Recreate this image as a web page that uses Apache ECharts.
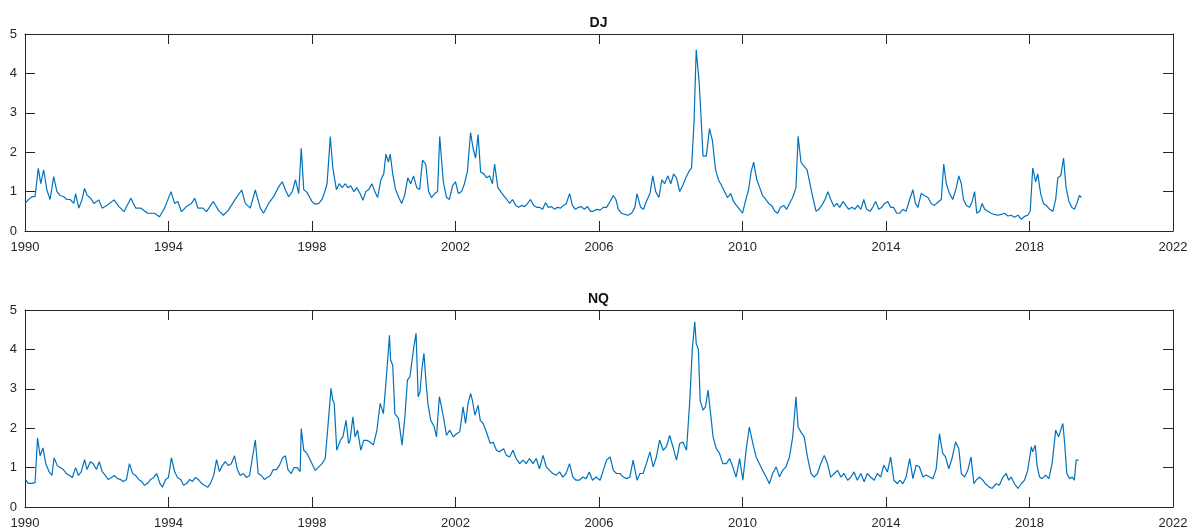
<!DOCTYPE html>
<html>
<head>
<meta charset="utf-8">
<script src="https://cdn.jsdelivr.net/npm/echarts@6/dist/echarts.min.js"></script>
<style>
html,body{margin:0;padding:0;background:#fff;}
#chart{width:1197px;height:531px;}
</style>
</head>
<body>
<div id="chart"></div>
<script>
// ---- DATA ----
const panelTitles = ['DJ', 'NQ'];
const yearTicks = [1990, 1994, 1998, 2002, 2006, 2010, 2014, 2018, 2022];
const valueTicks = [0, 1, 2, 3, 4, 5];

const djYears = [
1990.00,1990.09,1990.19,1990.28,1990.37,1990.44,1990.52,1990.61,1990.70,1990.80,1990.89,1990.98,
1991.08,1991.17,1991.26,1991.36,1991.41,1991.50,1991.59,1991.66,1991.73,1991.83,1991.92,
1992.06,1992.15,1992.30,1992.48,1992.62,1992.76,1992.95,
1993.09,1993.23,1993.42,1993.61,1993.75,1993.89,
1994.07,1994.17,1994.26,1994.36,1994.50,1994.64,1994.73,1994.82,1994.96,
1995.06,1995.25,1995.39,1995.53,1995.67,1995.85,
1996.04,1996.14,1996.28,1996.42,1996.56,1996.65,1996.79,1996.93,
1997.07,1997.17,1997.26,1997.35,1997.45,1997.54,1997.63,1997.70,1997.77,1997.86,
1998.00,1998.09,1998.19,1998.28,1998.34,1998.42,1998.51,1998.58,1998.68,1998.76,1998.84,1998.93,
1999.00,1999.08,1999.17,1999.25,1999.34,1999.42,1999.50,1999.58,1999.67,1999.75,1999.83,1999.92,
2000.00,2000.06,2000.13,2000.18,2000.25,2000.33,2000.42,2000.50,2000.58,2000.67,2000.75,2000.83,2000.92,
2001.00,2001.08,2001.17,2001.25,2001.33,2001.42,2001.50,2001.56,2001.66,2001.75,2001.83,2001.92,
2002.00,2002.08,2002.17,2002.25,2002.33,2002.42,2002.49,2002.56,2002.63,2002.70,2002.79,2002.87,2002.95,
2003.03,2003.09,2003.18,2003.26,2003.34,2003.43,2003.51,2003.59,2003.68,2003.76,2003.84,2003.93,
2004.01,2004.09,2004.18,2004.26,2004.34,2004.43,2004.51,2004.59,2004.68,2004.76,2004.84,2004.93,
2005.01,2005.09,2005.18,2005.26,2005.34,2005.43,2005.51,2005.59,2005.68,2005.76,2005.84,2005.93,
2006.03,2006.12,2006.21,2006.31,2006.40,2006.47,2006.54,2006.63,2006.72,2006.81,2006.91,
2007.00,2007.06,2007.16,2007.24,2007.32,2007.42,2007.50,2007.58,2007.67,2007.75,2007.83,2007.92,
2008.00,2008.08,2008.16,2008.25,2008.33,2008.42,2008.50,2008.58,2008.65,2008.71,2008.79,2008.85,2008.90,2008.99,
2009.08,2009.16,2009.25,2009.33,2009.42,2009.50,2009.58,2009.67,2009.75,2009.83,2009.92,
2010.00,2010.08,2010.17,2010.24,2010.31,2010.40,2010.48,2010.56,2010.65,2010.73,2010.81,2010.90,2010.98,
2011.06,2011.15,2011.23,2011.31,2011.40,2011.49,2011.55,2011.63,2011.71,2011.80,2011.88,2011.96,
2012.05,2012.13,2012.21,2012.30,2012.38,2012.46,2012.55,2012.63,2012.71,2012.80,2012.88,2012.96,
2013.05,2013.13,2013.21,2013.30,2013.38,2013.46,2013.55,2013.63,2013.71,2013.80,2013.88,2013.96,
2014.05,2014.13,2014.21,2014.30,2014.38,2014.47,2014.56,2014.66,2014.75,2014.82,2014.89,2014.98,
2015.07,2015.17,2015.26,2015.35,2015.47,2015.54,2015.61,2015.68,2015.77,2015.86,2015.96,
2016.03,2016.10,2016.16,2016.24,2016.33,2016.40,2016.47,2016.53,2016.61,2016.68,2016.75,2016.84,2016.93,
2017.02,2017.12,2017.21,2017.30,2017.40,2017.49,2017.58,2017.68,2017.77,2017.86,2017.95,
2018.02,2018.09,2018.17,2018.23,2018.31,2018.39,2018.47,2018.56,2018.65,2018.73,2018.79,2018.87,2018.95,
2019.02,2019.10,2019.18,2019.25,2019.32,2019.39,2019.45
];
const djValues = [
0.70,0.79,0.87,0.87,1.59,1.20,1.55,1.04,0.80,1.38,1.00,0.90,
0.87,0.80,0.80,0.70,0.95,0.58,0.80,1.08,0.91,0.83,0.70,
0.79,0.58,0.66,0.79,0.62,0.49,0.83,
0.58,0.58,0.45,0.45,0.36,0.58,
1.00,0.70,0.75,0.49,0.62,0.70,0.83,0.58,0.58,
0.49,0.75,0.53,0.40,0.53,0.79,
1.04,0.70,0.58,1.04,0.58,0.45,0.70,0.87,
1.12,1.25,1.04,0.87,1.00,1.30,0.95,2.10,1.05,0.98,
0.75,0.68,0.70,0.80,0.95,1.20,2.40,1.60,1.05,1.20,1.10,1.20,
1.10,1.15,1.00,1.10,0.95,0.78,1.00,1.05,1.20,1.00,0.85,1.30,
1.45,1.95,1.75,1.95,1.45,1.05,0.85,0.70,0.90,1.35,1.20,1.40,1.10,
1.05,1.80,1.70,1.00,0.85,0.95,1.00,2.40,1.25,0.85,0.80,1.15,
1.25,0.95,1.00,1.20,1.50,2.50,2.10,1.85,2.45,1.50,1.45,1.35,1.40,
1.20,1.70,1.10,1.00,0.90,0.80,0.70,0.80,0.65,0.60,0.65,0.62,
0.70,0.80,0.65,0.60,0.60,0.55,0.72,0.60,0.62,0.55,0.60,0.58,
0.65,0.70,0.95,0.65,0.55,0.60,0.62,0.55,0.62,0.50,0.50,0.55,
0.53,0.60,0.60,0.75,0.90,0.80,0.55,0.45,0.42,0.40,0.45,
0.60,0.95,0.60,0.55,0.75,0.95,1.40,1.00,0.85,1.30,1.20,1.40,
1.20,1.45,1.35,1.00,1.15,1.35,1.50,1.60,2.80,4.60,3.80,2.80,1.90,1.90,
2.60,2.30,1.55,1.30,1.15,1.00,0.85,0.95,0.75,0.65,0.55,
0.45,0.75,1.05,1.50,1.75,1.30,1.10,0.90,0.80,0.70,0.65,0.50,0.45,
0.60,0.65,0.55,0.70,0.85,1.10,2.40,1.75,1.65,1.55,1.20,0.85,
0.50,0.55,0.65,0.80,1.00,0.80,0.62,0.70,0.60,0.75,0.65,0.55,
0.60,0.55,0.65,0.55,0.80,0.55,0.50,0.60,0.75,0.55,0.60,0.70,
0.75,0.60,0.60,0.45,0.45,0.55,0.50,0.80,1.05,0.70,0.60,0.95,
0.90,0.85,0.70,0.65,0.75,0.80,1.70,1.20,0.95,0.80,1.10,
1.40,1.20,0.80,0.65,0.60,0.75,1.00,0.45,0.50,0.70,0.55,0.50,0.45,
0.42,0.40,0.42,0.45,0.38,0.40,0.35,0.40,0.30,0.37,0.40,
0.50,1.60,1.25,1.45,0.95,0.70,0.65,0.55,0.50,0.80,1.35,1.40,1.85,
1.10,0.75,0.60,0.55,0.70,0.90,0.85
];

const nqYears = [
1990.00,1990.09,1990.19,1990.28,1990.35,1990.42,1990.50,1990.58,1990.67,1990.75,1990.81,1990.90,1990.98,
1991.07,1991.15,1991.24,1991.32,1991.41,1991.49,1991.57,1991.66,1991.73,1991.82,1991.90,1991.99,
1992.07,1992.15,1992.24,1992.32,1992.41,1992.49,1992.58,1992.66,1992.74,1992.83,1992.91,
1993.00,1993.08,1993.17,1993.25,1993.33,1993.42,1993.50,1993.59,1993.67,1993.76,1993.83,1993.92,
1994.00,1994.08,1994.17,1994.25,1994.34,1994.42,1994.51,1994.59,1994.67,1994.75,1994.83,1994.92,
1995.00,1995.09,1995.17,1995.26,1995.34,1995.42,1995.50,1995.58,1995.67,1995.75,1995.84,1995.92,
1996.00,1996.09,1996.17,1996.26,1996.33,1996.42,1996.50,1996.59,1996.67,1996.75,1996.84,1996.92,
1997.01,1997.09,1997.18,1997.26,1997.33,1997.42,1997.50,1997.59,1997.67,1997.70,1997.77,1997.86,
1998.00,1998.09,1998.19,1998.28,1998.37,1998.53,1998.58,1998.62,1998.69,1998.79,1998.86,1998.95,
1999.02,1999.06,1999.14,1999.20,1999.27,1999.36,1999.44,1999.53,1999.62,1999.71,1999.81,1999.90,1999.99,
2000.06,2000.16,2000.19,2000.25,2000.31,2000.41,2000.45,2000.51,2000.59,2000.66,2000.73,2000.79,2000.84,2000.90,2000.96,
2001.01,2001.06,2001.12,2001.18,2001.23,2001.31,2001.41,2001.47,2001.55,2001.61,2001.68,2001.75,2001.84,2001.94,
2002.03,2002.12,2002.21,2002.28,2002.35,2002.42,2002.47,2002.54,2002.63,2002.69,2002.77,2002.86,2002.97,
2003.05,2003.14,2003.23,2003.34,2003.42,2003.51,2003.60,2003.69,2003.79,2003.88,2003.97,
2004.06,2004.16,2004.25,2004.34,2004.44,2004.53,2004.62,2004.71,2004.81,2004.90,2004.99,
2005.08,2005.18,2005.27,2005.36,2005.45,2005.55,2005.64,2005.73,2005.82,2005.92,
2006.03,2006.12,2006.21,2006.31,2006.40,2006.49,2006.58,2006.68,2006.77,2006.86,2006.95,
2007.06,2007.14,2007.23,2007.32,2007.42,2007.51,2007.60,2007.69,2007.79,2007.88,2007.97,
2008.06,2008.16,2008.25,2008.34,2008.44,2008.53,2008.60,2008.67,2008.71,2008.77,2008.82,2008.90,2008.97,
2009.04,2009.10,2009.18,2009.27,2009.36,2009.45,2009.55,2009.64,2009.73,2009.82,2009.92,
2010.01,2010.10,2010.19,2010.29,2010.38,2010.47,2010.56,2010.66,2010.75,2010.84,2010.94,
2011.03,2011.12,2011.21,2011.31,2011.40,2011.49,2011.55,2011.63,2011.72,2011.81,2011.91,
2012.00,2012.09,2012.18,2012.28,2012.37,2012.46,2012.56,2012.65,2012.74,2012.83,2012.93,
2013.02,2013.11,2013.20,2013.30,2013.39,2013.48,2013.57,2013.67,2013.76,2013.85,2013.94,
2014.04,2014.13,2014.22,2014.32,2014.38,2014.47,2014.56,2014.66,2014.75,2014.84,2014.93,
2015.03,2015.12,2015.21,2015.31,2015.40,2015.49,2015.58,2015.66,2015.75,2015.84,2015.94,
2016.03,2016.10,2016.19,2016.28,2016.37,2016.45,2016.51,2016.61,2016.70,2016.77,2016.87,2016.96,
2017.07,2017.16,2017.26,2017.35,2017.42,2017.49,2017.58,2017.68,2017.77,2017.86,2017.95,
2018.05,2018.09,2018.16,2018.21,2018.28,2018.35,2018.45,2018.54,2018.63,2018.73,2018.81,2018.87,2018.93,2018.98,
2019.04,2019.12,2019.19,2019.25,2019.30,2019.37,2019.44
];
const nqValues = [
0.72,0.60,0.60,0.62,1.75,1.30,1.50,1.10,0.90,0.80,1.25,1.05,1.00,
0.95,0.85,0.80,0.75,1.00,0.80,0.90,1.20,0.95,1.15,1.10,0.95,
1.15,0.90,0.80,0.70,0.75,0.80,0.72,0.70,0.65,0.70,1.10,
0.85,0.80,0.70,0.65,0.55,0.60,0.70,0.75,0.85,0.60,0.50,0.70,
0.75,1.25,0.90,0.75,0.70,0.55,0.60,0.70,0.65,0.75,0.70,0.60,
0.55,0.50,0.60,0.80,1.20,0.90,1.05,1.15,1.05,1.10,1.30,0.95,
0.80,0.85,0.75,0.80,1.20,1.70,0.85,0.80,0.70,0.75,0.80,0.95,
0.95,1.05,1.25,1.30,0.95,0.85,1.00,1.00,0.90,1.99,1.44,1.36,
1.10,0.93,1.02,1.10,1.23,3.01,2.71,2.63,1.44,1.69,1.78,2.20,
1.61,1.69,2.29,1.78,1.95,1.44,1.69,1.69,1.65,1.57,1.95,2.63,2.37,
3.14,4.36,3.73,3.60,2.37,2.25,2.29,1.57,2.29,3.22,3.31,3.73,4.07,4.41,2.80,
2.92,3.47,3.90,3.14,2.63,2.20,2.03,1.78,2.80,2.54,2.20,1.82,1.95,
1.78,1.86,1.91,2.54,2.12,2.63,2.88,2.71,2.33,2.58,2.20,2.12,1.91,
1.61,1.65,1.44,1.40,1.48,1.31,1.27,1.44,1.23,1.10,1.19,
1.10,1.23,1.10,1.23,0.97,1.31,1.02,0.93,0.85,0.81,0.89,
0.76,0.85,1.10,0.76,0.68,0.68,0.76,0.72,0.89,0.68,
0.76,0.68,0.93,1.19,1.27,0.93,0.85,0.85,0.76,0.72,0.76,
1.19,0.68,0.85,0.85,1.10,1.40,1.02,1.27,1.70,1.44,1.53,
1.82,1.53,1.19,1.61,1.65,1.44,2.70,4.00,4.70,4.15,4.00,2.70,2.46,
2.55,2.97,2.46,1.78,1.48,1.36,1.10,1.10,1.23,1.02,0.76,
1.23,0.68,1.44,2.03,1.61,1.27,1.10,0.93,0.76,0.59,0.85,
1.02,0.76,0.93,1.02,1.27,1.78,2.80,2.03,1.90,1.78,1.27,
0.85,0.76,0.85,1.10,1.31,1.10,0.76,0.85,0.93,0.76,0.85,
0.68,0.76,0.89,0.68,0.85,0.64,0.85,0.76,0.68,0.85,0.76,
1.06,0.89,1.27,0.68,0.59,0.68,0.59,0.76,1.23,0.72,1.06,
1.02,0.76,0.81,0.76,0.72,0.97,1.86,1.36,1.27,0.97,1.23,
1.65,1.48,0.85,0.76,0.93,1.27,0.59,0.68,0.76,0.68,0.59,0.51,
0.47,0.59,0.55,0.76,0.85,0.68,0.76,0.59,0.47,0.59,0.68,
0.93,1.53,1.40,1.57,1.06,0.76,0.72,0.81,0.72,1.10,1.95,1.78,1.95,2.12,
1.61,0.85,0.72,0.76,0.68,1.19,1.19
];

// ---- CHART ----
const FONT = '"Liberation Sans", Arial, Helvetica, sans-serif';
const INK = '#262626';
const LINE = '#0072BD';

const djData = djYears.map((x, i) => [x, djValues[i]]);
const nqData = nqYears.map((x, i) => [x, nqValues[i]]);

function xAx(g, pos, lab) {
  return {
    type: 'value', gridIndex: g, position: pos,
    min: yearTicks[0], max: yearTicks[yearTicks.length - 1], interval: yearTicks[1] - yearTicks[0],
    axisLine: { show: true, onZero: false, lineStyle: { color: INK, width: 1 } },
    axisTick: { show: true, inside: true, length: 10, lineStyle: { color: INK, width: 1 } },
    axisLabel: { show: lab, margin: 10, fontSize: 13, color: INK, fontFamily: FONT, formatter: v => String(v) },
    splitLine: { show: false }
  };
}
function yAx(g, pos, lab) {
  return {
    type: 'value', gridIndex: g, position: pos,
    min: valueTicks[0], max: valueTicks[valueTicks.length - 1], interval: valueTicks[1] - valueTicks[0],
    axisLine: { show: true, onZero: false, lineStyle: { color: INK, width: 1 } },
    axisTick: { show: true, inside: true, length: 10, lineStyle: { color: INK, width: 1 } },
    axisLabel: { show: lab, margin: 8, fontSize: 13, color: INK, fontFamily: FONT, formatter: v => String(v) },
    splitLine: { show: false }
  };
}

const chart = echarts.init(document.getElementById('chart'), null, { renderer: 'canvas' });
chart.setOption({
  animation: false,
  backgroundColor: '#ffffff',
  title: [
    { text: panelTitles[0], left: 'center', top: 11, textStyle: { fontSize: 14, fontWeight: 'bold', color: '#111', fontFamily: FONT } },
    { text: panelTitles[1], left: 'center', top: 287, textStyle: { fontSize: 14, fontWeight: 'bold', color: '#111', fontFamily: FONT } }
  ],
  grid: [
    { left: 25, top: 34, width: 1148, height: 197, containLabel: false },
    { left: 25, top: 310, width: 1148, height: 197, containLabel: false }
  ],
  xAxis: [xAx(0, 'bottom', true), xAx(0, 'top', false), xAx(1, 'bottom', true), xAx(1, 'top', false)],
  yAxis: [yAx(0, 'left', true), yAx(0, 'right', false), yAx(1, 'left', true), yAx(1, 'right', false)],
  series: [
    { type: 'line', xAxisIndex: 0, yAxisIndex: 0, data: djData, showSymbol: false, lineStyle: { color: LINE, width: 1.2 }, itemStyle: { color: LINE } },
    { type: 'line', xAxisIndex: 2, yAxisIndex: 2, data: nqData, showSymbol: false, lineStyle: { color: LINE, width: 1.2 }, itemStyle: { color: LINE } }
  ]
});
</script>
</body>
</html>
